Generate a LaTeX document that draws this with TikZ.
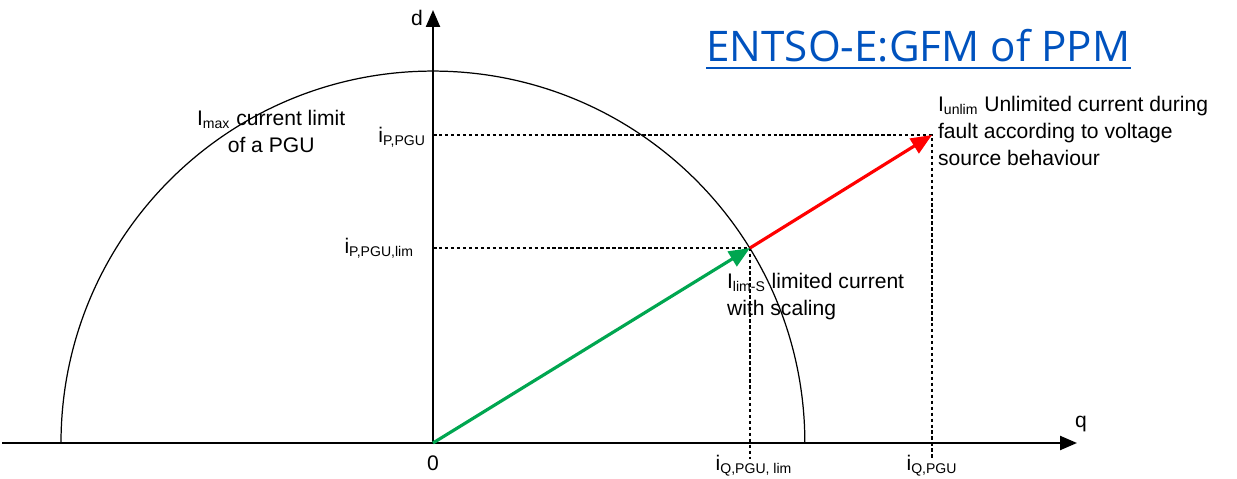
\documentclass[tikz,border=0pt]{standalone}
\usepackage{fontspec}
\setmainfont{Liberation Sans}
\newfontfamily\titlefont{Open Sans}
\usetikzlibrary{arrows.meta, positioning}
\definecolor{linkblue}{RGB}{0,82,190}
\definecolor{limgreen}{RGB}{0,166,80}
\definecolor{unlred}{RGB}{255,0,0}

\begin{document}
\begin{tikzpicture}[x=0.02cm, y=-0.02cm,
    lab/.style={font=\fontsize{12}{15.5}\selectfont, inner sep=1pt, align=left},
    axis/.style={-{Triangle[length=3.4mm, width=2.8mm]}, line width=1.3pt},
    guide/.style={dash pattern=on 2pt off 1.4pt, line width=0.6pt},
    vec/.style={-{Triangle[length=4.2mm, width=3.4mm]}, line width=1.8pt}]
    \useasboundingbox (0,0) rectangle (1237,479);

    % Axes and current limit circle
    \coordinate (O)    at (433,443);
    \coordinate (qbeg) at (2,443);
    \coordinate (qend) at (1077,443);
    \coordinate (dend) at (433,10);
    \draw[line width=0.7pt] (O) ++(-372,0) arc[start angle=180, end angle=0, radius=7.44cm];
    \draw[axis] (qbeg) -- (qend);
    \draw[axis] (O) -- (dend);
    \node[lab] (dlab) at (417,18) {d};
    \node[lab] (qlab) at (1081,424) {q};
    \node[lab] (zero) at (433,463) {0};

    % Operating points
    \coordinate (lim) at (750,248);
    \coordinate (unl) at (932,135);
    \coordinate (limfoot) at (750,459);
    \coordinate (unlfoot) at (932,459);
    \draw[guide] (O |- lim) -- (lim) -- (limfoot);
    \draw[guide] (O |- unl) -- (unl) -- (unlfoot);
    \node[lab, anchor=east] (ip)    at (428,137) {i\textsubscript{P,PGU}};
    \node[lab, anchor=east] (iplim) at (416,248) {i\textsubscript{P,PGU,lim}};
    \node[lab] (iqlim) at (754,466) {i\textsubscript{Q,PGU, lim}};
    \node[lab] (iq)    at (932,466) {i\textsubscript{Q,PGU}};

    % Current vectors
    \draw[vec, draw=limgreen, fill=limgreen] (O) -- (lim);
    \draw[vec, draw=unlred, fill=unlred] (lim) -- (unl);

    % Descriptions
    \node[lab, align=center, anchor=north west] (imax) at (195,108)
        {I\textsubscript{max} current limit\\of a PGU};
    \node[lab, anchor=north west] (iunlim) at (936,94)
        {I\textsubscript{unlim} Unlimited current during\\fault according to voltage\\source behaviour};
    \node[lab, anchor=north west] (ilims) at (725,271)
        {I\textsubscript{lim-S} limited current\\with scaling};

    % Title
    \node[font=\titlefont\fontsize{24}{28}\selectfont, text=linkblue, inner sep=0pt,
          anchor=base west] (title) at (706,62) {ENTSO-E:GFM of PPM};
    \draw[linkblue, line width=0.9pt] ([yshift=-3.5pt]title.base west) -- ([yshift=-3.5pt]title.base east);
\end{tikzpicture}
\end{document}
